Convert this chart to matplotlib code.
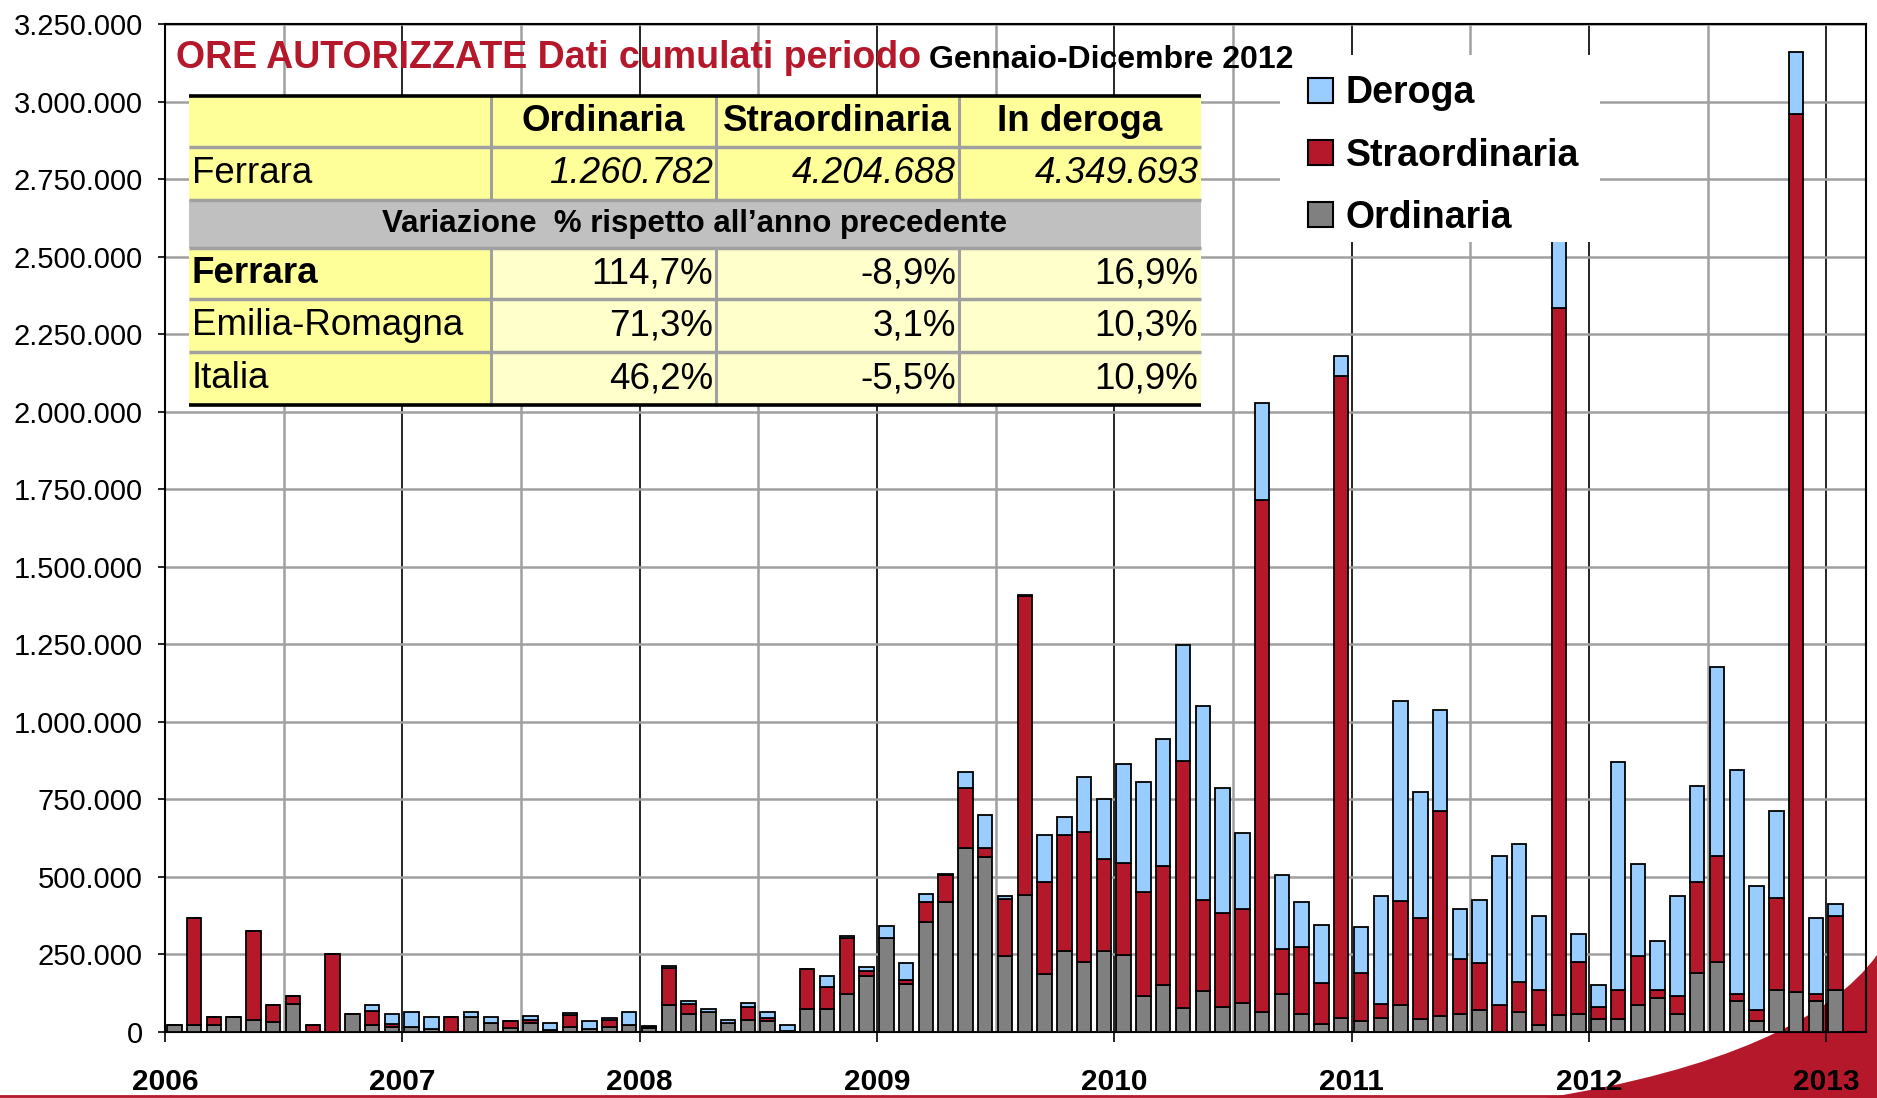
import numpy as np
import matplotlib
matplotlib.use('Agg')
import matplotlib.pyplot as plt
from matplotlib.patches import Rectangle, PathPatch, Patch
from matplotlib.path import Path
from matplotlib.lines import Line2D
from matplotlib.ticker import FuncFormatter

plt.rcParams['font.family'] = ['Liberation Sans', 'DejaVu Sans']

# monthly authorised hours (thousands), Jan 2006 .. Jan 2013
ordinaria = [22, 22, 21, 47, 40, 33, 91, 0, 0, 58, 22, 15,
             17, 11, 0, 47, 28, 12, 28, 5, 17, 11, 17, 22,
             12, 86, 58, 64, 29, 40, 37, 4, 74, 74, 121, 179,
             302, 156, 355, 418, 593, 565, 244, 443, 186, 261, 226, 261,
             248, 115, 150, 79, 133, 80, 92, 64, 121, 58, 27, 46,
             34, 46, 87, 41, 52, 58, 70, 0, 64, 23, 54, 58,
             41, 41, 87, 110, 59, 191, 227, 100, 34, 134, 129, 100,
             134]
straordinaria = [0, 344, 26, 0, 286, 53, 26, 22, 251, 0, 47, 10,
                 0, 0, 47, 0, 0, 22, 12, 0, 39, 0, 23, 0,
                 4, 121, 32, 0, 0, 40, 8, 0, 130, 71, 181, 17,
                 0, 12, 63, 89, 193, 29, 185, 962, 297, 374, 420, 297,
                 298, 338, 384, 794, 292, 305, 304, 1652, 147, 216, 130, 2070,
                 157, 45, 337, 327, 659, 176, 151, 86, 98, 111, 2280, 169,
                 41, 93, 158, 24, 57, 292, 340, 21, 36, 298, 2830, 21,
                 239]
deroga = [0, 0, 0, 0, 0, 0, 0, 0, 0, 0, 18, 33,
          46, 36, 0, 17, 19, 0, 13, 23, 5, 23, 5, 41,
          2, 7, 9, 11, 11, 12, 18, 20, 0, 35, 6, 14,
          41, 53, 26, 3, 53, 106, 8, 5, 152, 58, 176, 193,
          317, 352, 410, 375, 625, 401, 245, 312, 239, 146, 187, 64,
          147, 347, 644, 407, 328, 163, 204, 481, 444, 239, 246, 90,
          69, 735, 297, 159, 322, 311, 611, 724, 402, 279, 202, 247,
          41]

years = list(range(2006, 2014))

# summary table (Jan-Dec 2012)
table_cols = ['Ordinaria', 'Straordinaria', 'In deroga']
totals_2012 = ['1.260.782', '4.204.688', '4.349.693']
var_rows = ['Ferrara', 'Emilia-Romagna', 'Italia']
var_values = [['114,7%', '-8,9%', '16,9%'],
              ['71,3%', '3,1%', '10,3%'],
              ['46,2%', '-5,5%', '10,9%']]

GREY = '#808080'
RED = '#B5172B'
BLUE = '#99CCFF'

o = np.array(ordinaria) * 1000
s = np.array(straordinaria) * 1000
d = np.array(deroga) * 1000
x = 2006 + (np.arange(len(o)) + 0.47) / 12
w = 0.73 / 12

fig = plt.figure(figsize=(18.77, 10.98), dpi=100)

# decorative red swoosh in the lower right corner + bottom rule
W, H = 1877.0, 1098.0
pts = [(1545, 1098), (1720, 1070), (1830, 1020), (1877, 955), (1877, 1098), (1545, 1098)]
codes = [Path.MOVETO, Path.CURVE4, Path.CURVE4, Path.CURVE4, Path.LINETO, Path.CLOSEPOLY]
swoosh = Path([(px / W, 1 - py / H) for px, py in pts], codes)
fig.add_artist(PathPatch(swoosh, transform=fig.transFigure, facecolor=RED,
                         edgecolor='none', zorder=-1))
fig.add_artist(Line2D([0, 1], [0.0018, 0.0018], transform=fig.transFigure,
                      color=RED, lw=2, zorder=-1))

ax = fig.add_axes([0.0879, 0.0601, 0.9062, 0.9180])
ax.set_facecolor('none')

kw = dict(width=w, edgecolor='black', linewidth=1.3, zorder=3)
ax.bar(x, o, color=GREY, **kw)
ax.bar(x, s, bottom=o, color=RED, **kw)
ax.bar(x, d, bottom=o + s, color=BLUE, **kw)

ax.set_xlim(2006, 2013 + 2 / 12)
ax.set_ylim(0, 3250000)
ax.set_yticks(np.arange(0, 3250001, 250000))
ax.yaxis.set_major_formatter(FuncFormatter(lambda v, p: f'{int(v):,}'.replace(',', '.')))
ax.set_xticks(years)
ax.set_xticklabels([str(y) for y in years], fontweight='bold', fontsize=21.5)
ax.set_xticks([y + 0.5 for y in years[:-1]], minor=True)

ax.set_axisbelow(True)
ax.yaxis.grid(True, color='#A0A0A0', lw=1.8)
ax.xaxis.grid(True, which='major', color='black', lw=1.2)
ax.xaxis.grid(True, which='minor', color='#A0A0A0', lw=1.8)
ax.tick_params(axis='x', which='major', length=7, width=1.2, pad=19)
ax.tick_params(axis='x', which='minor', length=0)
ax.tick_params(axis='y', length=5, width=1.2, pad=11, labelsize=21)
for sp in ax.spines.values():
    sp.set_linewidth(1.5)
    sp.set_color('black')

# title inside the plot
ax.text(2006.045, 3.107e6, 'ORE AUTORIZZATE Dati cumulati periodo', color=RED,
        fontsize=27, fontweight='bold', va='baseline', zorder=6)
ax.text(2009.22, 3.107e6, 'Gennaio-Dicembre 2012', color='black',
        fontsize=23, fontweight='bold', va='baseline', zorder=6)

# table drawn from patches
col_edges = [2006.10, 2007.372, 2008.32, 2009.345, 2010.366]
row_edges = [3.018e6, 2.852e6, 2.683e6, 2.528e6, 2.362e6, 2.192e6, 2.022e6]
YEL, LYEL, GRAYROW, LINE = '#FFFF99', '#FFFFCC', '#C0C0C0', '#A0A0A0'
FS = 26.5
pad = 0.012


def cell(c0, c1, r, color):
    ax.add_patch(Rectangle((col_edges[c0], row_edges[r + 1]),
                           col_edges[c1] - col_edges[c0],
                           row_edges[r] - row_edges[r + 1],
                           facecolor=color, edgecolor='none', zorder=5))


def ymid(r):
    return (row_edges[r] + row_edges[r + 1]) / 2


cell(0, 4, 0, YEL)
cell(0, 4, 1, YEL)
cell(0, 4, 2, GRAYROW)
for r in range(3, 6):
    cell(0, 1, r, YEL)
    cell(1, 4, r, LYEL)

for j, name in enumerate(table_cols):
    ax.text((col_edges[j + 1] + col_edges[j + 2]) / 2, ymid(0), name, ha='center',
            va='center', fontsize=FS, fontweight='bold', zorder=7)
ax.text(col_edges[0] + pad, ymid(1), 'Ferrara', ha='left', va='center', fontsize=FS, zorder=7)
for j, val in enumerate(totals_2012):
    ax.text(col_edges[j + 2] - pad, ymid(1), val, ha='right', va='center',
            fontsize=FS, style='italic', zorder=7)
ax.text((col_edges[0] + col_edges[-1]) / 2, ymid(2),
        'Variazione  % rispetto all\u2019anno precedente', ha='center', va='center',
        fontsize=22.5, fontweight='bold', zorder=7)
for i, (name, vals) in enumerate(zip(var_rows, var_values)):
    r = 3 + i
    ax.text(col_edges[0] + pad, ymid(r), name, ha='left', va='center', fontsize=FS,
            fontweight='bold' if i == 0 else 'normal', zorder=7)
    for j, val in enumerate(vals):
        ax.text(col_edges[j + 2] - pad, ymid(r), val, ha='right', va='center',
                fontsize=FS, zorder=7)

for r in range(1, 6):
    ax.plot([col_edges[0], col_edges[-1]], [row_edges[r]] * 2, color=LINE, lw=2.5,
            zorder=6, solid_capstyle='butt')
for c in col_edges[1:-1]:
    for r0, r1 in [(0, 2), (3, 6)]:
        ax.plot([c, c], [row_edges[r0], row_edges[r1]], color=LINE, lw=2.2, zorder=6)
for r in (0, 6):
    ax.plot([col_edges[0], col_edges[-1]], [row_edges[r]] * 2, color='black', lw=2.6,
            zorder=7, solid_capstyle='butt')

# legend on a white block
ax.add_patch(Rectangle((0.6555, 0.784), 0.188, 0.185, transform=ax.transAxes,
                       facecolor='white', edgecolor='none', zorder=5))
handles = [Patch(facecolor=BLUE, edgecolor='black', lw=1.5, label='Deroga'),
           Patch(facecolor=RED, edgecolor='black', lw=1.5, label='Straordinaria'),
           Patch(facecolor=GREY, edgecolor='black', lw=1.5, label='Ordinaria')]
leg = ax.legend(handles=handles, loc='upper left', bbox_to_anchor=(0.672, 0.949),
                frameon=False, borderpad=0, borderaxespad=0, handlelength=0.66,
                handleheight=0.66, handletextpad=0.35, labelspacing=0.7,
                prop={'weight': 'bold', 'size': 27})
leg.set_zorder(8)

fig.savefig('out.png', dpi=100)
